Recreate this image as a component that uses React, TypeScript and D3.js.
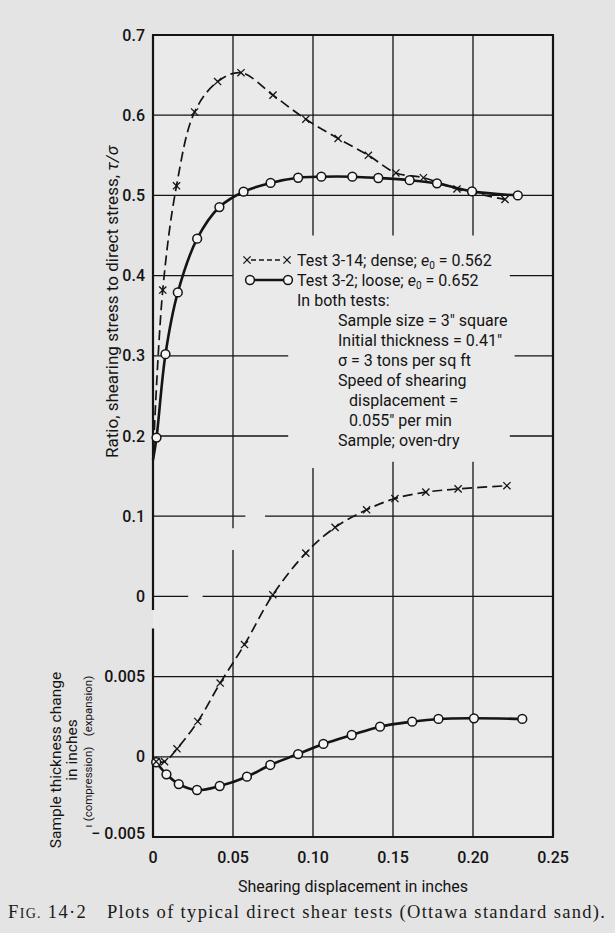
import React from "react";
import * as d3 from "d3";

// ---------- data ----------
const xTicks = [0, 0.05, 0.1, 0.15, 0.2, 0.25];
const xTickLabels = ["0", "0.05", "0.10", "0.15", "0.20", "0.25"];
const ratioTicks = [0, 0.1, 0.2, 0.3, 0.4, 0.5, 0.6, 0.7];
const ratioTickLabels = ["0", "0.1", "0.2", "0.3", "0.4", "0.5", "0.6", "0.7"];
const thickTicks = [-0.005, 0, 0.005];
const thickTickLabels = ["\u2212 0.005", "0", "0.005"];

// Test 3-14 (dense): ratio tau/sigma
const denseRatioStart: [number, number] = [0, 0.17];
const denseRatioX = [0.0061, 0.0147, 0.026, 0.0404, 0.055, 0.075, 0.0955, 0.1157, 0.1346, 0.1518, 0.169, 0.19, 0.22];
const denseRatioY = [0.382, 0.512, 0.604, 0.642, 0.653, 0.625, 0.595, 0.571, 0.55, 0.528, 0.522, 0.508, 0.495];

// Test 3-2 (loose): ratio tau/sigma
const looseRatioStart: [number, number] = [0, 0.17];
const looseRatioX = [0.0022, 0.0078, 0.0155, 0.0276, 0.0415, 0.0566, 0.0735, 0.0907, 0.1052, 0.1246, 0.1408, 0.1604, 0.1775, 0.1994, 0.228];
const looseRatioY = [0.198, 0.302, 0.379, 0.446, 0.4855, 0.5046, 0.5155, 0.522, 0.5233, 0.5233, 0.5217, 0.519, 0.515, 0.505, 0.5];

// Thickness change (inches)
const denseThickX = [0.002, 0.0072, 0.015, 0.028, 0.042, 0.0572, 0.0749, 0.0955, 0.1138, 0.1335, 0.1512, 0.1705, 0.1907, 0.2212];
const denseThickY = [-0.0003, -0.0003, 0.0005, 0.0022, 0.0046, 0.0070, 0.0101, 0.0127, 0.0143, 0.0154, 0.0161, 0.0165, 0.0167, 0.0169];
const looseThickX = [0.002, 0.0084, 0.0161, 0.0275, 0.0417, 0.0587, 0.0733, 0.0907, 0.1065, 0.1242, 0.1419, 0.162, 0.1784, 0.2006, 0.2308];
const looseThickY = [-0.00034, -0.00109, -0.0017, -0.00207, -0.00182, -0.00124, -0.00051, 0.00017, 0.0008, 0.00136, 0.00188, 0.00219, 0.00236, 0.0024, 0.00236];

// grid pieces (in ratio units; the lower panel continues the same ruling)
const hGrid: [number, number, number][] = [
  [0.6, 0, 0.25], [0.5, 0, 0.25],
  [0.4, 0, 0.05], [0.4, 0.223, 0.25],
  [0.3, 0, 0.0845], [0.3, 0.226, 0.25],
  [0.2, 0, 0.0845], [0.2, 0.223, 0.25],
  [0.1, 0, 0.0577], [0.1, 0.07, 0.25],
  [0, 0, 0.022], [0, 0.031, 0.25],
];
const vGrid: [number, number, number][] = [
  [0.05, 0.7, 0.085], [0.05, 0.058, -0.3],
  [0.1, 0.7, 0.45], [0.1, 0.16, -0.3],
  [0.15, 0.7, 0.45], [0.15, 0.168, -0.3],
  [0.2, 0.7, 0.45], [0.2, 0.168, -0.3],
];
const axisPieces: [number, number, number][] = [
  [0, 0.7, -0.017], [0, -0.04, -0.3], [0.25, 0.7, -0.3],
];

const legendNotes = [
  "In both tests:",
  "Sample size = 3\u2033 square",
  "Initial thickness = 0.41\u2033",
  "\u03c3 = 3 tons per sq ft",
  "Speed of shearing",
  "displacement =",
  "0.055\u2033 per min",
  "Sample; oven-dry",
];

// ---------- layout ----------
const W = 615, H = 933;
const left = 153, right = 553, top = 35, cell = 80.2;
const FONT = "Roboto, 'Open Sans', sans-serif";
const SERIF = "'Liberation Serif', 'DejaVu Serif', serif";
const INK = "#141414";
const noteOffsets = [0, 41, 41, 41, 41, 52, 52, 41];

const x = d3.scaleLinear().domain([0, 0.25]).range([left, right]);
const yR = d3.scaleLinear().domain([0, 0.7]).range([top + 7 * cell, top]);
const yT = d3.scaleLinear().domain([-0.005, 0.005]).range([top + 10 * cell, top + 8 * cell]);

const zip = (a: number[], b: number[]): [number, number][] => a.map((v, i) => [v, b[i]]);

const Cross = ({ cx, cy }: { cx: number; cy: number }) => (
  <g stroke={INK} strokeWidth={1.3}>
    <line x1={cx - 3.6} y1={cy - 3.6} x2={cx + 3.6} y2={cy + 3.6} />
    <line x1={cx - 3.6} y1={cy + 3.6} x2={cx + 3.6} y2={cy - 3.6} />
  </g>
);
const Ring = ({ cx, cy }: { cx: number; cy: number }) => (
  <circle cx={cx} cy={cy} r={4.4} fill="#f4f4f4" stroke={INK} strokeWidth={1.5} />
);

export default function App() {
  const curve = d3.curveCatmullRom.alpha(0.5);
  const lineR = d3.line<[number, number]>().x(d => x(d[0])).y(d => yR(d[1])).curve(curve);
  const lineT = d3.line<[number, number]>().x(d => x(d[0])).y(d => yT(d[1])).curve(curve);

  const denseR = zip(denseRatioX, denseRatioY);
  const looseR = zip(looseRatioX, looseRatioY);
  const denseT = zip(denseThickX, denseThickY);
  const looseT = zip(looseThickX, looseThickY);

  const lgX = 297, lgY = 260, lgStep = 20;

  return (
    <svg width={W} height={H} style={{ position: "absolute", left: 0, top: 0 }} fontFamily={FONT}>
      <rect width={W} height={H} fill="#e4e4e4" />
      <rect x={left} y={top} width={right - left} height={10 * cell} fill="#eaeaea" />

      {/* grid */}
      <g stroke={INK} strokeWidth={1.3}>
        {hGrid.map(([v, a, b], i) => (
          <line key={"h" + i} x1={x(a)} x2={x(b)} y1={yR(v)} y2={yR(v)} />
        ))}
        {thickTicks.slice(1).map((v, i) => (
          <line key={"t" + i} x1={x(0)} x2={x(0.25)} y1={yT(v)} y2={yT(v)} />
        ))}
        {vGrid.map(([v, a, b], i) => (
          <line key={"v" + i} x1={x(v)} x2={x(v)} y1={yR(a)} y2={yR(b)} />
        ))}
      </g>
      <g stroke={INK} strokeWidth={2.2}>
        {axisPieces.map(([v, a, b], i) => (
          <line key={"a" + i} x1={x(v)} x2={x(v)} y1={yR(a)} y2={yR(b)} />
        ))}
        <line x1={x(0) - 1} x2={x(0.25) + 1} y1={yR(0.7)} y2={yR(0.7)} />
        <line x1={x(0) - 1} x2={x(0.25) + 1} y1={yT(-0.005)} y2={yT(-0.005)} />
      </g>

      {/* curves */}
      <path d={lineR([denseRatioStart, ...denseR]) || ""} fill="none" stroke={INK} strokeWidth={1.7} strokeDasharray="10 5" />
      <path d={lineR([looseRatioStart, ...looseR]) || ""} fill="none" stroke={INK} strokeWidth={2.6} />
      <path d={lineT(denseT) || ""} fill="none" stroke={INK} strokeWidth={1.7} strokeDasharray="10 5" />
      <path d={lineT(looseT) || ""} fill="none" stroke={INK} strokeWidth={2.6} />

      {denseR.map((d, i) => <Cross key={"dr" + i} cx={x(d[0])} cy={yR(d[1])} />)}
      {looseR.map((d, i) => <Ring key={"lr" + i} cx={x(d[0])} cy={yR(d[1])} />)}
      {looseT.map((d, i) => <Ring key={"lt" + i} cx={x(d[0])} cy={yT(d[1])} />)}
      {denseT.map((d, i) => <Cross key={"dt" + i} cx={x(d[0])} cy={yT(d[1])} />)}

      {/* tick labels */}
      <g fill={INK} fontSize={16} fontWeight={500} textAnchor="end">
        {ratioTicks.map((v, i) => (
          <text key={"rl" + i} x={left - 8} y={yR(v)} dy="0.35em">{ratioTickLabels[i]}</text>
        ))}
        {thickTicks.map((v, i) => (
          <text key={"tl" + i} x={left - 8} y={yT(v) - (i === 0 ? 4 : 0)} dy="0.35em">{thickTickLabels[i]}</text>
        ))}
      </g>
      <g fill={INK} fontSize={16} fontWeight={500} textAnchor="middle">
        {xTicks.map((v, i) => (
          <text key={"xl" + i} x={x(v)} y={863}>{xTickLabels[i]}</text>
        ))}
        <text x={(left + right) / 2} y={892} fontWeight={400}>Shearing displacement in inches</text>
      </g>

      {/* axis titles */}
      <text transform="translate(112,302) rotate(-90)" textAnchor="middle" dominantBaseline="central" fontSize={17} fill={INK}>
        Ratio, shearing stress to direct stress, <tspan fontStyle="italic">{"\u03c4/\u03c3"}</tspan>
      </text>
      <text transform="translate(56,760) rotate(-90)" textAnchor="middle" dominantBaseline="central" fontSize={15.5} fill={INK}>
        Sample thickness change
      </text>
      <text transform="translate(72,750) rotate(-90)" textAnchor="middle" dominantBaseline="central" fontSize={15.5} fill={INK}>
        in inches
      </text>
      <text transform="translate(88,784) rotate(-90)" textAnchor="middle" dominantBaseline="central" fontSize={11.5} fill={INK}>
        (compression)
      </text>
      <text transform="translate(88,706) rotate(-90)" textAnchor="middle" dominantBaseline="central" fontSize={11.5} fill={INK}>
        (expansion)
      </text>
      <text transform="translate(88,826) rotate(-90)" textAnchor="middle" dominantBaseline="central" fontSize={11.5} fill={INK}>
        {"\u0131"}
      </text>

      {/* legend */}
      <g>
        <line x1={251} x2={283} y1={lgY} y2={lgY} stroke={INK} strokeWidth={1.3} strokeDasharray="5 3" />
        <Cross cx={247} cy={lgY} />
        <Cross cx={287} cy={lgY} />
        <line x1={252} x2={286} y1={lgY + lgStep} y2={lgY + lgStep} stroke={INK} strokeWidth={2.4} />
        <Ring cx={250} cy={lgY + lgStep} />
        <Ring cx={288} cy={lgY + lgStep} />
      </g>
      <g fill={INK} fontSize={16}>
        <text x={lgX} y={lgY} dy="0.35em">
          Test 3-14; dense; <tspan fontStyle="italic">e</tspan><tspan dy={3} fontSize={10}>0</tspan><tspan dy={-3}> = 0.562</tspan>
        </text>
        <text x={lgX} y={lgY + lgStep} dy="0.35em">
          Test 3-2; loose; <tspan fontStyle="italic">e</tspan><tspan dy={3} fontSize={10}>0</tspan><tspan dy={-3}> = 0.652</tspan>
        </text>
        {legendNotes.map((t, i) => (
          <text key={"n" + i} x={lgX + noteOffsets[i]} y={lgY + (i + 2) * lgStep} dy="0.35em">{t}</text>
        ))}
      </g>

      {/* caption */}
      <text x={8} y={918} fontFamily={SERIF} fontSize={18.5} fill="#1a1a1a" textLength={597} lengthAdjust="spacing">
        F<tspan fontSize={14}>IG.</tspan> 14·2{"\u2003"}Plots of typical direct shear tests (Ottawa standard sand).
      </text>
    </svg>
  );
}
